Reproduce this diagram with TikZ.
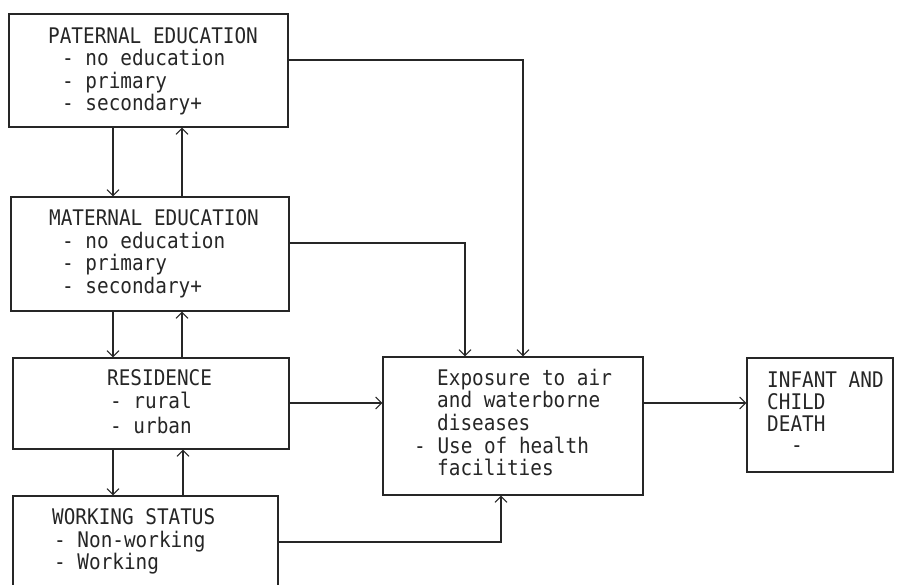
\documentclass[tikz,border=0pt]{standalone}
\usepackage{fontspec}
\newfontfamily\plotfont[FakeStretch=0.9]{DejaVu Sans Mono}
\usetikzlibrary{arrows.meta}
\begin{document}
\begin{tikzpicture}[x=1pt,y=-1pt,
  box/.style={draw=black!85,line width=1.1pt,rectangle,inner sep=0pt},
  txt/.style={anchor=base west,inner sep=0pt,text=black!85,font=\plotfont\fontsize{21.5}{24}\selectfont},
  link/.style={draw=black!85,line width=1.1pt},
  arr/.style={link,-{Straight Barb[length=6pt,width=12pt,line width=1.1pt]}}]
\useasboundingbox[fill=white] (0,0) rectangle (905,584);
\clip (0,0) rectangle (905,584);
% boxes
\node[box,minimum width=279pt,minimum height=113pt] (pat) at (148.5,70.5) {};
\node[box,minimum width=278pt,minimum height=114pt] (mat) at (150,254) {};
\node[box,minimum width=276pt,minimum height=91pt] (res) at (151,403.5) {};
\node[box,minimum width=265pt,minimum height=110pt] (work) at (145.5,551) {};
\node[box,minimum width=260pt,minimum height=138pt] (ctr) at (513,426) {};
\node[box,minimum width=146pt,minimum height=114pt] (inf) at (820,415) {};
% texts
\node[txt] (t1) at (48,43) {PATERNAL EDUCATION};
\node[txt] (t2) at (62,65) {- no education};
\node[txt] (t3) at (62,88) {- primary};
\node[txt] (t4) at (62,110) {- secondary+};
\node[txt] (m1) at (49,225) {MATERNAL EDUCATION};
\node[txt] (m2) at (62,248) {- no education};
\node[txt] (m3) at (62,270) {- primary};
\node[txt] (m4) at (62,293) {- secondary+};
\node[txt] (r1) at (107,385) {RESIDENCE};
\node[txt] (r2) at (110,408) {- rural};
\node[txt] (r3) at (110,433) {- urban};
\node[txt] (w1) at (52,524) {WORKING STATUS};
\node[txt] (w2) at (54,547) {- Non-working};
\node[txt] (w3) at (54,569) {- Working};
\node[txt] (c1) at (437,385) {Exposure to air};
\node[txt] (c2) at (437,407) {and waterborne};
\node[txt] (c3) at (437,430) {diseases};
\node[txt] (c4) at (414,453) {- Use of health};
\node[txt] (c5) at (437,475) {facilities};
\node[txt] (i1) at (767,387) {INFANT AND};
\node[txt] (i2) at (767,409) {CHILD};
\node[txt] (i3) at (767,431) {DEATH};
\node[txt] (i4) at (791,452) {-};
% vertical links between left boxes
\draw[arr] (pat.south -| 113,0) -- (mat.north -| 113,0);
\draw[arr] (mat.north -| 182,0) -- (pat.south -| 182,0);
\draw[arr] (mat.south -| 113,0) -- (res.north -| 113,0);
\draw[arr] (res.north -| 182,0) -- (mat.south -| 182,0);
\draw[arr] (res.south -| 113,0) -- (work.north -| 113,0);
\draw[arr] (work.north -| 183,0) -- (res.south -| 183,0);
% links to centre
\draw[arr] (pat.east |- 0,60) -- (523,60) -- (ctr.north -| 523,0);
\draw[arr] (mat.east |- 0,243) -- (465,243) -- (ctr.north -| 465,0);
\draw[arr] (res.east |- 0,403) -- (ctr.west |- 0,403);
\draw[arr] (work.east |- 0,542) -- (501,542) -- (ctr.south -| 501,0);
\draw[arr] (ctr.east |- 0,403) -- (inf.west |- 0,403);
\end{tikzpicture}
\end{document}
